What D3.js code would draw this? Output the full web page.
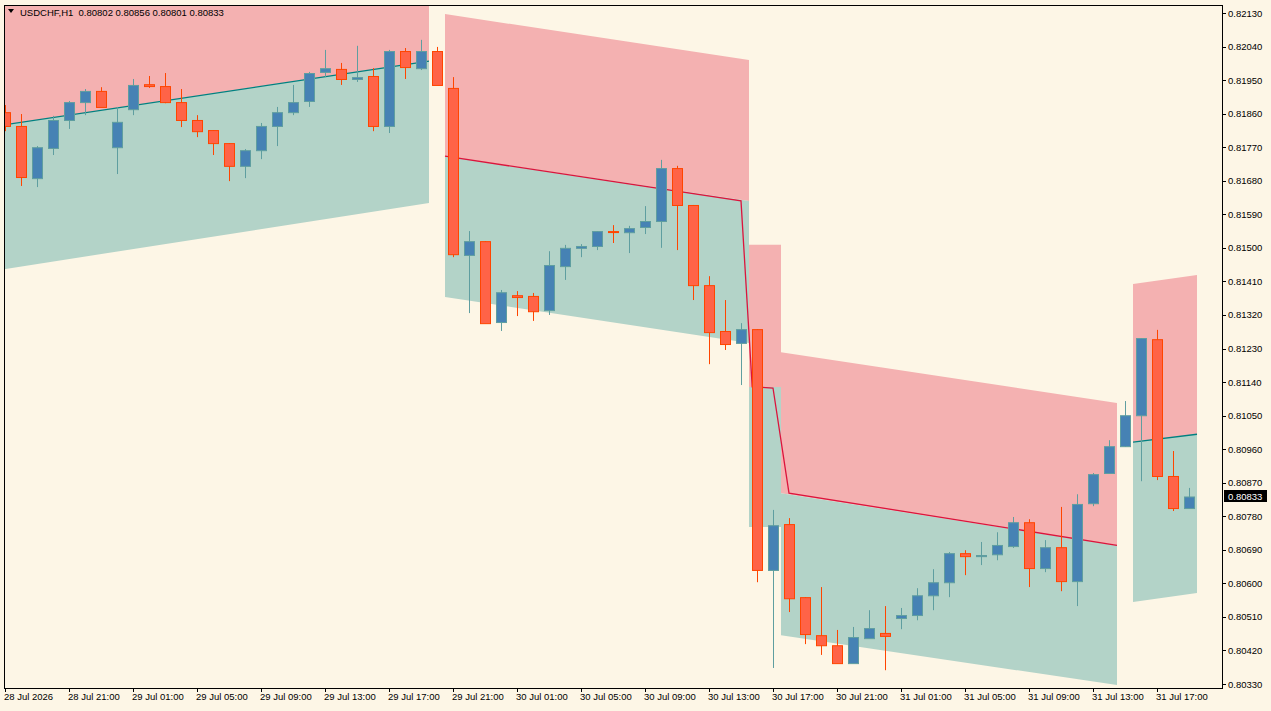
<!DOCTYPE html>
<html>
<head>
<meta charset="utf-8">
<script src="https://cdn.jsdelivr.net/npm/d3@7"></script>
<style>
body { margin: 0; background: #fff; }
svg { display: block; }
</style>
</head>
<body>
<svg id="chart" width="1271" height="711"></svg>
<script>
// OHLC of each hourly bar, 28 Jul 17:00 onward
const opens = [
	0.81864, 0.81827, 0.81687, 0.81768, 0.81843, 0.81891, 0.81921, 0.81770, 0.81872, 0.81939,
	0.81934, 0.81891, 0.81843, 0.81816, 0.81781, 0.81720, 0.81762, 0.81827, 0.81864, 0.81894,
	0.81972, 0.81980, 0.81953, 0.81961, 0.81827, 0.82028, 0.81982, 0.82028, 0.81929, 0.81481,
	0.81518, 0.81301, 0.81373, 0.81371, 0.81333, 0.81451, 0.81500, 0.81505, 0.81545, 0.81542,
	0.81556, 0.81572, 0.81714, 0.81615, 0.81400, 0.81277, 0.81245, 0.81282, 0.80636, 0.80759,
	0.80563, 0.80461, 0.80434, 0.80386, 0.80453, 0.80467, 0.80507, 0.80515, 0.80568, 0.80603,
	0.80681, 0.80673, 0.80678, 0.80700, 0.80764, 0.80641, 0.80697, 0.80606, 0.80815, 0.80896,
	0.80968, 0.81051, 0.81255, 0.80888, 0.80802
];
const highs = [
	0.81883, 0.81859, 0.81773, 0.81854, 0.81894, 0.81926, 0.81931, 0.81878, 0.81953, 0.81961,
	0.81969, 0.81926, 0.81856, 0.81816, 0.81781, 0.81765, 0.81835, 0.81878, 0.81937, 0.81972,
	0.82031, 0.81996, 0.82042, 0.81982, 0.82031, 0.82036, 0.82058, 0.82039, 0.81958, 0.81545,
	0.81518, 0.81387, 0.81384, 0.81379, 0.81491, 0.81508, 0.81510, 0.81545, 0.81561, 0.81559,
	0.81612, 0.81736, 0.81720, 0.81615, 0.81424, 0.81360, 0.81298, 0.81282, 0.80797, 0.80775,
	0.80563, 0.80590, 0.80475, 0.80483, 0.80528, 0.80539, 0.80534, 0.80587, 0.80638, 0.80684,
	0.80689, 0.80711, 0.80737, 0.80778, 0.80772, 0.80716, 0.80805, 0.80839, 0.80896, 0.80984,
	0.81089, 0.81258, 0.81280, 0.80955, 0.80856
];
const lows = [
	0.81813, 0.81666, 0.81663, 0.81749, 0.81819, 0.81856, 0.81878, 0.81698, 0.81856, 0.81929,
	0.81888, 0.81824, 0.81797, 0.81749, 0.81679, 0.81687, 0.81738, 0.81773, 0.81856, 0.81878,
	0.81958, 0.81937, 0.81945, 0.81813, 0.81808, 0.81953, 0.81977, 0.81937, 0.81475, 0.81325,
	0.81298, 0.81277, 0.81317, 0.81304, 0.81320, 0.81414, 0.81475, 0.81494, 0.81513, 0.81486,
	0.81537, 0.81500, 0.81494, 0.81360, 0.81188, 0.81226, 0.81132, 0.80603, 0.80373, 0.80523,
	0.80437, 0.80408, 0.80386, 0.80386, 0.80453, 0.80367, 0.80477, 0.80501, 0.80528, 0.80563,
	0.80622, 0.80649, 0.80662, 0.80695, 0.80590, 0.80630, 0.80579, 0.80539, 0.80807, 0.80896,
	0.80966, 0.80874, 0.80877, 0.80794, 0.80801
];
const closes = [
	0.81827, 0.81690, 0.81770, 0.81843, 0.81891, 0.81921, 0.81878, 0.81838, 0.81937, 0.81934,
	0.81891, 0.81843, 0.81813, 0.81781, 0.81720, 0.81762, 0.81827, 0.81864, 0.81891, 0.81969,
	0.81982, 0.81953, 0.81958, 0.81827, 0.82028, 0.81985, 0.82028, 0.81937, 0.81483, 0.81518,
	0.81298, 0.81381, 0.81368, 0.81330, 0.81454, 0.81500, 0.81505, 0.81545, 0.81544, 0.81553,
	0.81572, 0.81714, 0.81615, 0.81400, 0.81274, 0.81242, 0.81282, 0.80636, 0.80756, 0.80560,
	0.80464, 0.80434, 0.80386, 0.80456, 0.80480, 0.80459, 0.80515, 0.80568, 0.80603, 0.80681,
	0.80673, 0.80676, 0.80703, 0.80764, 0.80641, 0.80697, 0.80606, 0.80813, 0.80893, 0.80968,
	0.81051, 0.81258, 0.80888, 0.80802, 0.80833
];

// channel fills: [from bar, to bar], upper/middle/lower at both ends
const bandFrom  = [-0.5, 27.5, 46.5, 48.5, 70.5];
const bandTo    = [26.5, 46.5, 48.5, 69.5, 74.5];
const bandUp    = [[0.8240, 0.8240], [0.82127, 0.82004], [0.81508, 0.81508], [0.81220, 0.81084], [0.81403, 0.81427]];
const bandMid   = [[0.81827, 0.82001], [0.81746, 0.81626], [0.81127, 0.81127], [0.80842, 0.80702], [0.80979, 0.81000]];
const bandLow   = [[0.81440, 0.81620], [0.81368, 0.81245], [0.80751, 0.80751], [0.80461, 0.80327], [0.80550, 0.80574]];

// channel middle lines
const midUpA = [[-0.5, 0.81827], [26.5, 0.82001]];
const midDown = [[27.5, 0.81746], [46, 0.81626], [46.7, 0.81127], [48, 0.81124], [49, 0.80842], [69.5, 0.80702]];
const midUpB = [[70.5, 0.80979], [74.5, 0.81000]];

const priceTicks = [0.80330, 0.80420, 0.80510, 0.80600, 0.80690, 0.80780, 0.80870, 0.80960, 0.81050,
	0.81140, 0.81230, 0.81320, 0.81410, 0.81500, 0.81590, 0.81680, 0.81770, 0.81860, 0.81950, 0.82040, 0.82130];
const timeLabels = ["28 Jul 2026", "28 Jul 21:00", "29 Jul 01:00", "29 Jul 05:00", "29 Jul 09:00",
	"29 Jul 13:00", "29 Jul 17:00", "29 Jul 21:00", "30 Jul 01:00", "30 Jul 05:00", "30 Jul 09:00",
	"30 Jul 13:00", "30 Jul 17:00", "30 Jul 21:00", "31 Jul 01:00", "31 Jul 05:00", "31 Jul 09:00",
	"31 Jul 13:00", "31 Jul 17:00"];

const plotLeft = 4, plotTop = 5, plotRight = 1222, plotBottom = 688;
const font = "'Liberation Sans', Arial, sans-serif";
const fontSize = "9.5px";

const svg = d3.select("#chart");
const x = d3.scaleLinear().domain([0, 1]).range([5, 21]);
const y = d3.scaleLinear().domain([0.80330, 0.82130]).range([684, 13]);

svg.append("rect").attr("width", 1271).attr("height", 711).attr("fill", "#fdf6e6");
svg.append("defs").append("clipPath").attr("id", "plot")
	.append("rect").attr("x", plotLeft).attr("y", plotTop).attr("width", plotRight - plotLeft).attr("height", plotBottom - plotTop);

const plot = svg.append("g").attr("clip-path", "url(#plot)");

const bands = bandFrom.map((f, i) => ({ f: f, t: bandTo[i], up: bandUp[i], mid: bandMid[i], lo: bandLow[i] }));
const poly = (d, a, b) => [[x(d.f), y(d[a][0])], [x(d.t), y(d[a][1])], [x(d.t), y(d[b][1])], [x(d.f), y(d[b][0])]]
	.map(p => p.join(",")).join(" ");

plot.selectAll("polygon.up").data(bands).enter().append("polygon")
	.attr("points", d => poly(d, "up", "mid")).attr("fill", "#f4b1b1");
plot.selectAll("polygon.lo").data(bands).enter().append("polygon")
	.attr("points", d => poly(d, "mid", "lo")).attr("fill", "#b3d3c8");

const line = d3.line().x(d => x(d[0])).y(d => y(d[1]));
plot.append("path").attr("d", line(midUpA)).attr("fill", "none").attr("stroke", "#008080").attr("stroke-width", 1.3);
plot.append("path").attr("d", line(midUpB)).attr("fill", "none").attr("stroke", "#008080").attr("stroke-width", 1.3);
plot.append("path").attr("d", line(midDown)).attr("fill", "none").attr("stroke", "#dc143c").attr("stroke-width", 1.3);

const bars = opens.map((o, i) => ({ i: i, o: o, h: highs[i], l: lows[i], c: closes[i], up: closes[i] > opens[i] }));

plot.selectAll("line.wick").data(bars).enter().append("line")
	.attr("x1", d => x(d.i) + 0.5).attr("x2", d => x(d.i) + 0.5)
	.attr("y1", d => y(d.h)).attr("y2", d => y(d.l))
	.attr("stroke", d => d.up ? "#5f9ea0" : "#ff4500");

plot.selectAll("rect.body").data(bars).enter().append("rect")
	.attr("x", d => x(d.i) - 4.5)
	.attr("y", d => y(Math.max(d.o, d.c)) + 0.5)
	.attr("width", 10)
	.attr("height", d => Math.max(1, Math.abs(y(d.o) - y(d.c))))
	.attr("fill", d => d.up ? "#4682b4" : "#ff6347")
	.attr("stroke", d => d.up ? "#5f9ea0" : "#ff4500")
	.attr("stroke-width", 1);

// frame
svg.append("rect").attr("x", plotLeft + 0.5).attr("y", plotTop + 0.5)
	.attr("width", plotRight - plotLeft).attr("height", plotBottom - plotTop)
	.attr("fill", "none").attr("stroke", "#000");

// price axis
const pa = svg.append("g");
pa.selectAll("line").data(priceTicks).enter().append("line")
	.attr("x1", plotRight).attr("x2", plotRight + 4)
	.attr("y1", d => Math.round(y(d)) + 0.5).attr("y2", d => Math.round(y(d)) + 0.5)
	.attr("stroke", "#000");
pa.selectAll("text").data(priceTicks).enter().append("text")
	.attr("x", plotRight + 6).attr("y", d => y(d) + 3.5)
	.text(d => d.toFixed(5))
	.attr("font-family", font).attr("font-size", fontSize).attr("fill", "#000");

const last = closes[closes.length - 1];
svg.append("rect").attr("x", plotRight + 2).attr("y", Math.round(y(last)) - 6)
	.attr("width", 43).attr("height", 12).attr("fill", "#000");
svg.append("text").attr("x", plotRight + 6).attr("y", y(last) + 3.5)
	.text(last.toFixed(5))
	.attr("font-family", font).attr("font-size", fontSize).attr("fill", "#fff");

// time axis
const ta = svg.append("g");
ta.selectAll("line").data(timeLabels).enter().append("line")
	.attr("x1", (d, i) => x(i * 4) + 0.5).attr("x2", (d, i) => x(i * 4) + 0.5)
	.attr("y1", plotBottom).attr("y2", plotBottom + 4)
	.attr("stroke", "#000");
ta.selectAll("text").data(timeLabels).enter().append("text")
	.attr("x", (d, i) => x(i * 4) - 1).attr("y", plotBottom + 12)
	.text(d => d)
	.attr("font-family", font).attr("font-size", fontSize).attr("fill", "#000");

// title
svg.append("path").attr("d", "M8,9 L14,9 L11,13 Z").attr("fill", "#000");
svg.append("text").attr("x", 20).attr("y", 16)
	.text("USDCHF,H1  0.80802 0.80856 0.80801 0.80833")
	.attr("font-family", font).attr("font-size", fontSize).attr("fill", "#000")
	.attr("xml:space", "preserve").style("white-space", "pre");
</script>
</body>
</html>
